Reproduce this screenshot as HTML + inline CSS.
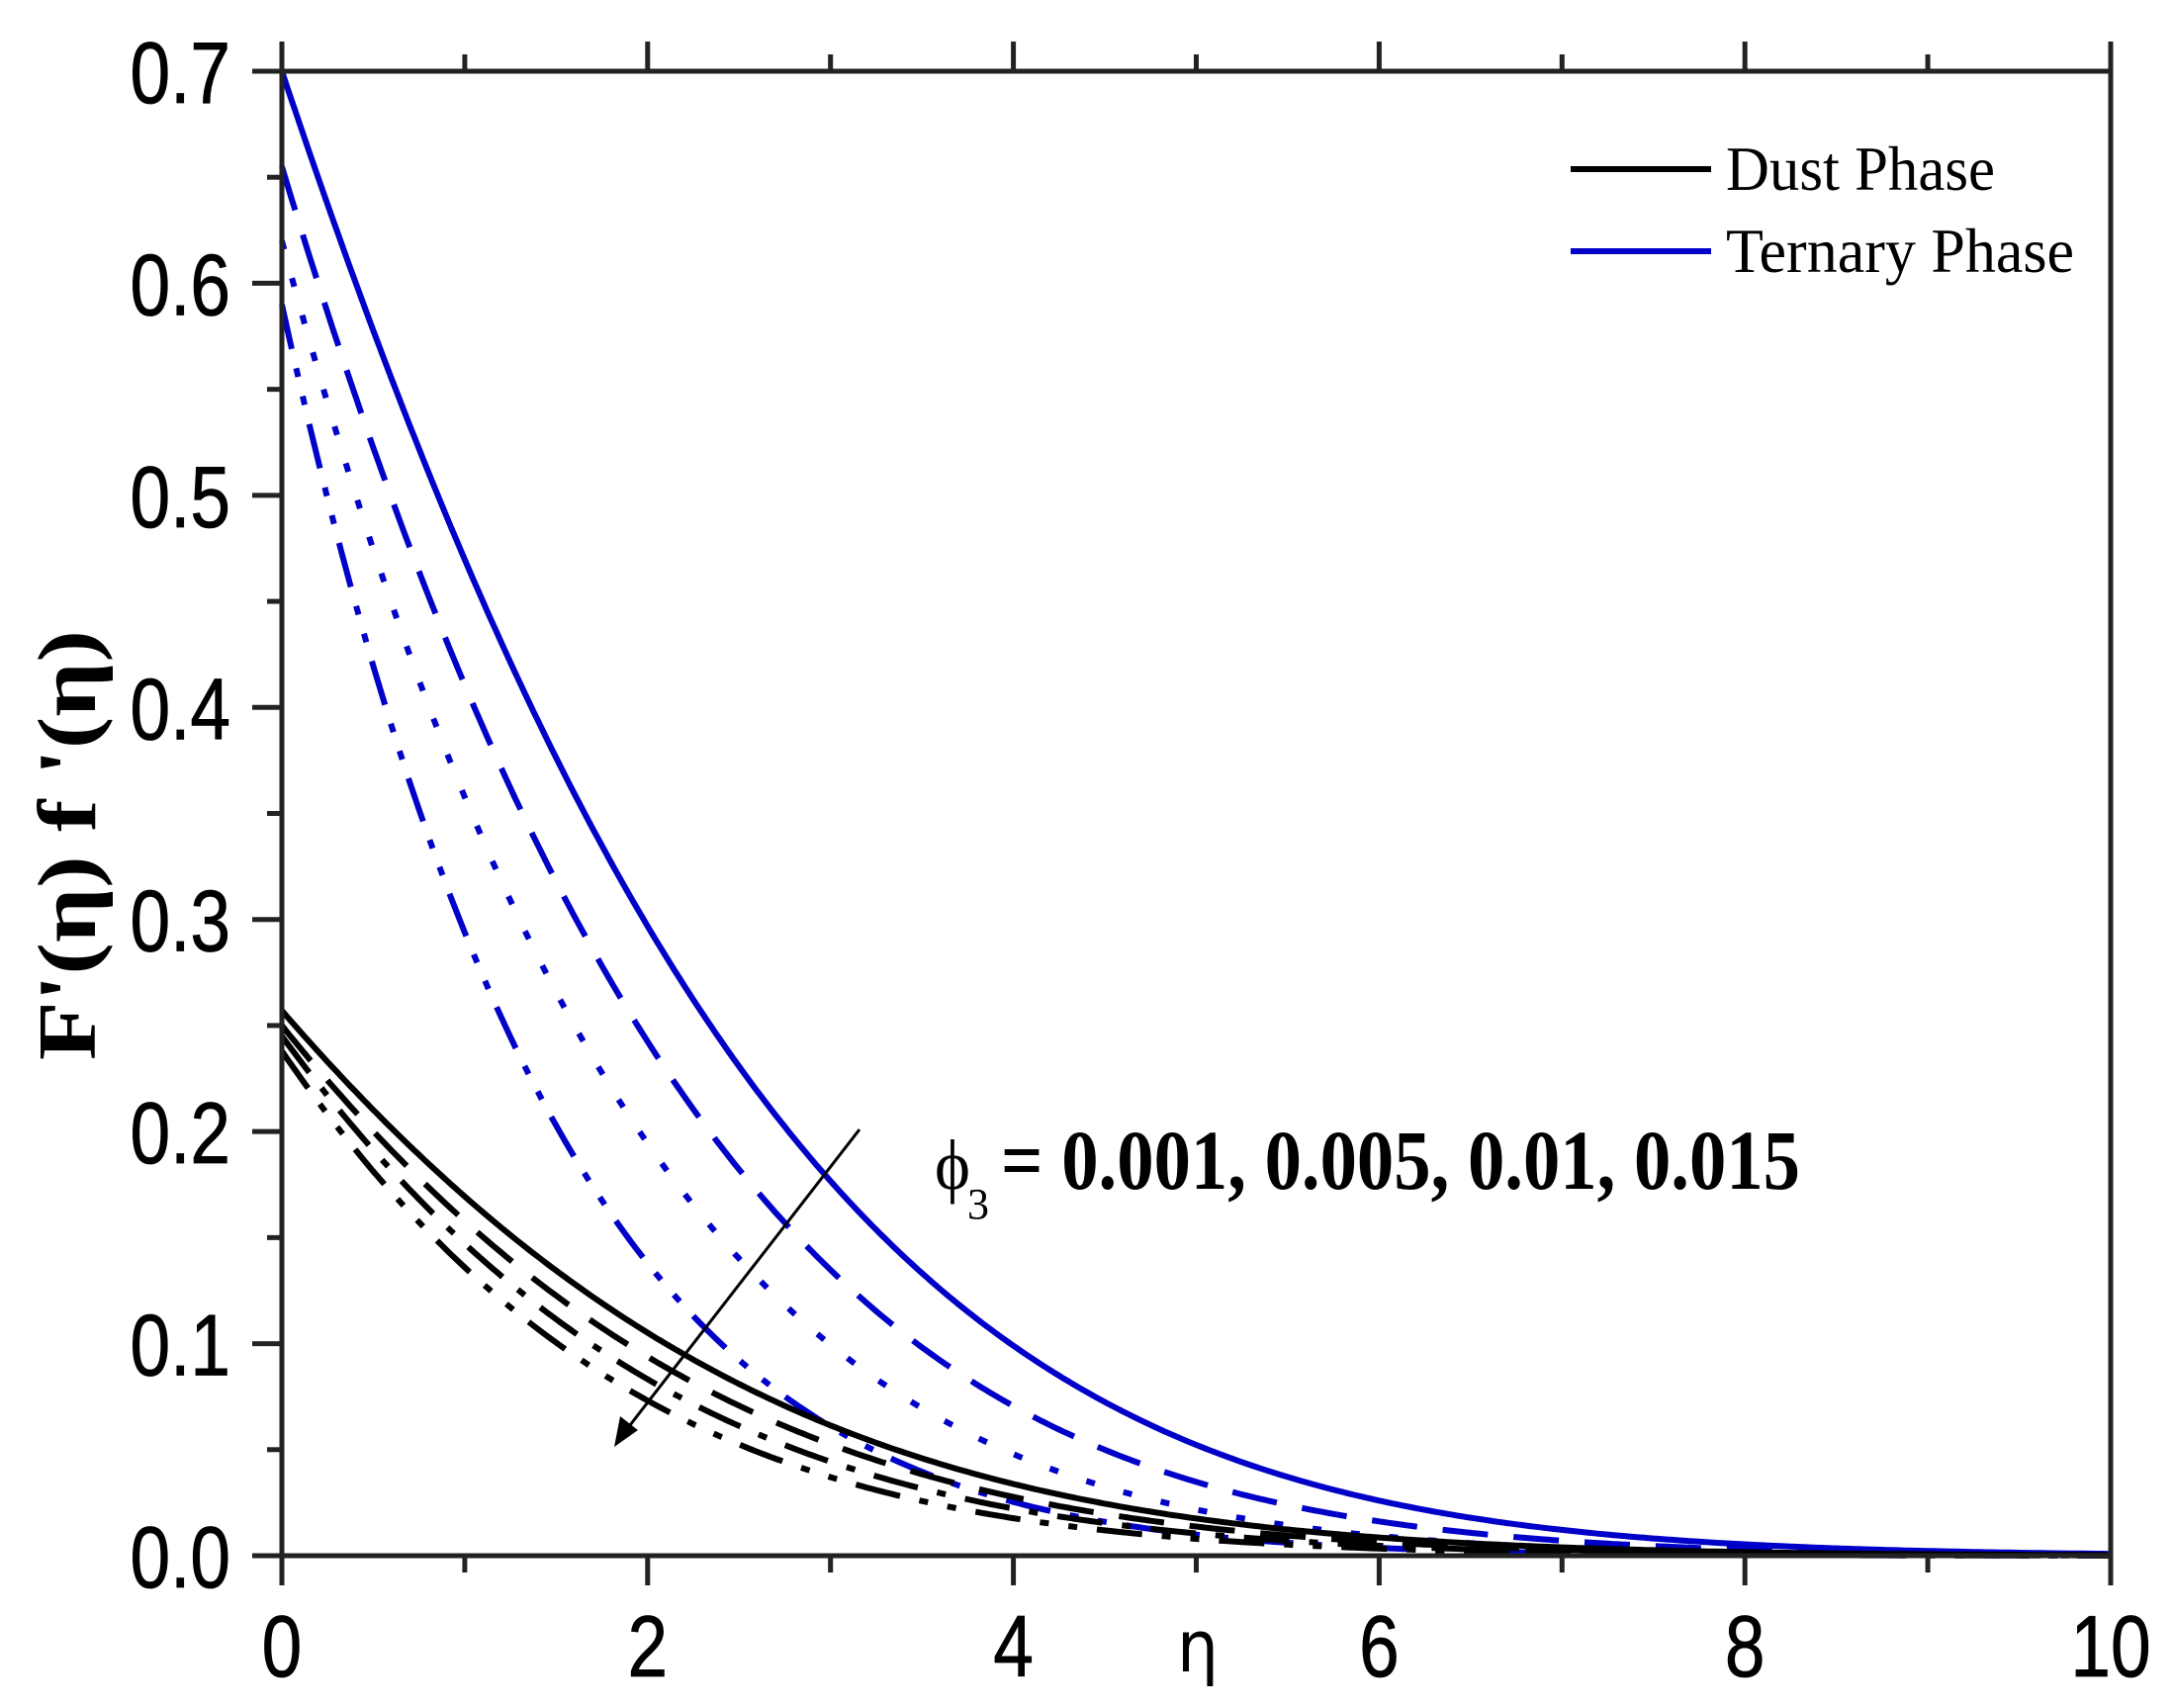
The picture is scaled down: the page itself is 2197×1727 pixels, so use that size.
<!DOCTYPE html>
<html><head><meta charset="utf-8"><style>
html,body{margin:0;padding:0;background:#fff;}
svg{display:block;}
</style></head><body>
<svg id="s" width="2197" height="1727" viewBox="0 0 2197 1727" xmlns="http://www.w3.org/2000/svg">
<rect width="2197" height="1727" fill="#fff"/>
<g id="curves"></g>
<g id="axes" stroke="#222" stroke-width="5" fill="none"></g>
<g font-family="Liberation Sans, sans-serif" font-size="88" fill="#000" stroke="#000" stroke-width="0.8" id="labels"></g>
<text x="1190" y="1690" font-family="DejaVu Sans, sans-serif" font-size="72" textLength="42" lengthAdjust="spacingAndGlyphs">η</text>
<text transform="translate(96,1072) rotate(-90)" font-family="Liberation Serif, serif" font-weight="bold" font-size="84" textLength="435" lengthAdjust="spacingAndGlyphs">F'(η) f '(η)</text>
<line x1="1588" y1="171" x2="1730" y2="171" stroke="#000" stroke-width="6"/>
<line x1="1588" y1="254" x2="1730" y2="254" stroke="#0000c8" stroke-width="6"/>
<text x="1745" y="192" font-family="Liberation Serif, serif" font-size="64" textLength="272" lengthAdjust="spacingAndGlyphs">Dust Phase</text>
<text x="1745" y="275" font-family="Liberation Serif, serif" font-size="64" textLength="352" lengthAdjust="spacingAndGlyphs">Ternary Phase</text>
<text x="945" y="1202" font-family="Liberation Serif, serif" font-size="72" textLength="36" lengthAdjust="spacingAndGlyphs">ϕ</text>
<text x="978" y="1232" font-family="Liberation Serif, serif" font-size="44">3</text>
<text x="1012" y="1202" font-family="Liberation Serif, serif" font-weight="bold" font-size="86" textLength="808" lengthAdjust="spacingAndGlyphs">= 0.001, 0.005, 0.01, 0.015</text>
<line x1="869" y1="1142" x2="630" y2="1450" stroke="#000" stroke-width="3"/>
<polygon points="621,1463 627,1432 645,1446" fill="#000"/>
</svg>
<script>
var X0=285,X1=2134,Y0=1573,Y1=72;
function px(e){return X0+(X1-X0)*e/10;}
function py(v){return Y0-(Y0-Y1)*v/0.7;}
var series=[
 [0.70,0.369,'#0000c8',''],
 [0.655,0.437,'#0000c8','46 26'],
 [0.62,0.52,'#0000c8','9 30'],
 [0.59,0.667,'#0000c8','46 20 9 20 9 20'],
 [0.257,0.387,'#000',''],
 [0.25,0.43,'#000','46 26'],
 [0.245,0.48,'#000','46 20 9 20'],
 [0.238,0.53,'#000','46 20 9 20 9 20']
];
var g=document.getElementById('curves'),ns='http://www.w3.org/2000/svg';
series.forEach(function(s){
 var d='';
 for(var i=0;i<=400;i++){var e=i*10/400;var v=s[0]*Math.exp(-s[1]*e-0.03*e*e);
  d+=(i?'L':'M')+px(e).toFixed(1)+','+py(v).toFixed(1);}
 var p=document.createElementNS(ns,'path');p.setAttribute('d',d);p.setAttribute('fill','none');
 p.setAttribute('stroke',s[2]);p.setAttribute('stroke-width','6');
 if(s[3])p.setAttribute('stroke-dasharray',s[3]);g.appendChild(p);
});
var a=document.getElementById('axes'),L=document.getElementById('labels');
function ln(x1,y1,x2,y2){var l=document.createElementNS(ns,'line');l.setAttribute('x1',x1);l.setAttribute('y1',y1);l.setAttribute('x2',x2);l.setAttribute('y2',y2);a.appendChild(l);}
ln(X0,Y1,X1,Y1);ln(X0,Y0,X1,Y0);ln(X0,Y1,X0,Y0);ln(X1,Y1,X1,Y0);
for(var i=0;i<=10;i++){var x=px(i),len=(i%2==0)?30:17;ln(x,Y0,x,Y0+len);ln(x,Y1,x,Y1-len);}
for(var j=0;j<=14;j++){var y=Y0-(Y0-Y1)*j/14,len=(j%2==0)?30:15;ln(X0,y,X0-len,y);}
function tx(x,y,s,anchor){var t=document.createElementNS(ns,'text');t.setAttribute('x',x);t.setAttribute('y',y);t.setAttribute('text-anchor',anchor);t.textContent=s;
 t.setAttribute('transform','translate('+x+',0) scale(0.83,1) translate('+(-x)+',0)');L.appendChild(t);}
for(var i=0;i<=10;i+=2)tx(px(i),1695,String(i),'middle');
for(var j=0;j<=7;j++)tx(233,py(j/10)+32,(j/10).toFixed(1),'end');
</script>
</body></html>
